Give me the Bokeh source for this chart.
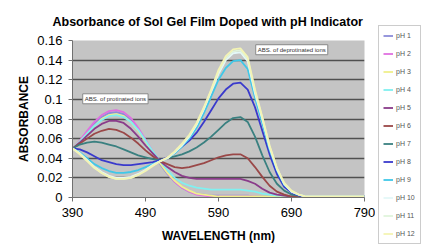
from bokeh.plotting import figure
from bokeh.models import Legend, LegendItem, Label, FixedTicker, Range1d
from bokeh.layouts import row
from bokeh.embed import file_html
from bokeh.resources import INLINE

wavelength = [390, 400, 410, 420, 430, 440, 450, 460, 470, 480, 490, 500, 510, 520, 530, 540, 550,
              560, 570, 580, 590, 600, 610, 620, 630, 640, 650, 660, 670, 680, 690, 700, 710, 720,
              730, 740, 750, 760, 770, 780, 790]

ph1 = [.050, .057, .066, .075, .082, .086, .087, .085, .079, .069, .057, .045, .034, .024, .016, .010, .006,
       .004, .003, .002, .002, .002, .002, .002, .002, .001, .001, .001, .001, .001, .001, .001, .001, .001,
       .001, .001, .001, .001, .001, .001, .001]
ph2 = [.050, .058, .068, .077, .084, .088, .089, .087, .081, .071, .059, .047, .036, .025, .016, .010, .006,
       .003, .002, .001, .001, .001, .001, .001, .001, .001, .000, .000, .000, .000, .000, .000, .000, .000,
       .000, .000, .000, .000, .000, .000, .000]
ph3 = [.050, .057, .065, .073, .080, .084, .085, .083, .077, .068, .057, .046, .035, .025, .017, .011, .007,
       .004, .003, .002, .001, .001, .001, .001, .001, .001, .001, .001, .001, .001, .001, .001, .001, .001,
       .001, .001, .001, .001, .001, .001, .001]
ph4 = [.050, .057, .065, .073, .079, .083, .084, .082, .077, .069, .058, .047, .037, .028, .020, .015, .012,
       .010, .009, .008, .008, .008, .008, .008, .007, .006, .004, .003, .002, .002, .001, .001, .001, .001,
       .001, .001, .001, .001, .001, .001, .001]
ph5 = [.050, .056, .063, .070, .075, .078, .078, .076, .070, .062, .053, .045, .037, .031, .026, .022, .020,
       .019, .019, .019, .019, .019, .019, .019, .017, .014, .009, .005, .003, .002, .001, .001, .001, .001,
       .001, .001, .001, .001, .001, .001, .001]
ph6 = [.050, .055, .060, .065, .068, .070, .069, .066, .061, .055, .048, .042, .037, .034, .031, .030, .031,
       .033, .035, .038, .041, .043, .044, .044, .040, .031, .021, .012, .006, .003, .001, .001, .001, .001,
       .001, .001, .001, .001, .001, .001, .001]
ph7 = [.050, .054, .056, .057, .056, .054, .052, .049, .046, .043, .041, .039, .038, .040, .042, .044, .047,
       .051, .056, .062, .069, .076, .081, .082, .077, .062, .043, .026, .014, .007, .003, .002, .001, .001,
       .001, .001, .001, .001, .001, .001, .001]
ph8 = [.050, .049, .046, .042, .038, .036, .034, .033, .033, .034, .035, .036, .038, .041, .046, .052, .058,
       .066, .077, .089, .101, .110, .116, .117, .110, .092, .068, .044, .024, .011, .005, .002, .001, .001,
       .001, .001, .001, .001, .001, .001, .001]
ph9 = [.050, .046, .040, .034, .030, .027, .025, .025, .026, .028, .031, .034, .037, .040, .045, .052, .060,
       .071, .086, .103, .120, .132, .139, .140, .131, .102, .076, .049, .028, .013, .006, .003, .001, .001,
       .001, .001, .001, .001, .001, .001, .001]
ph10 = [.050, .045, .038, .031, .026, .022, .020, .020, .021, .024, .028, .033, .037, .040, .046, .053, .062,
        .074, .090, .108, .126, .140, .147, .148, .139, .106, .080, .051, .029, .014, .006, .003, .001, .001,
        .001, .001, .001, .001, .001, .001, .001]
ph11 = [.050, .045, .038, .031, .025, .021, .019, .019, .020, .023, .028, .033, .037, .040, .046, .054, .063,
        .075, .091, .109, .128, .142, .149, .150, .141, .108, .081, .052, .030, .014, .006, .003, .001, .001,
        .001, .001, .001, .001, .001, .001, .001]
ph12 = [.050, .044, .037, .030, .025, .021, .019, .019, .020, .023, .027, .032, .037, .041, .047, .055, .064,
        .076, .092, .110, .130, .144, .151, .152, .143, .110, .082, .053, .030, .015, .007, .003, .001, .001,
        .001, .001, .001, .001, .001, .001, .001]

series_names = ["pH 1", "pH 2", "pH 3", "pH 4", "pH 5", "pH 6", "pH 7", "pH 8", "pH 9", "pH 10", "pH 11", "pH 12"]
series_values = [ph1, ph2, ph3, ph4, ph5, ph6, ph7, ph8, ph9, ph10, ph11, ph12]
colors = ["#8c8cd8", "#e070e0", "#f0f08c", "#80f0f0", "#8a3c8a", "#9a4848", "#3a8080", "#3a3acc",
          "#40c8e8", "#e4f8f8", "#e0f4dc", "#f4f4b4"]

x_ticks = [390, 490, 590, 690, 790]
y_ticks = [0, 0.02, 0.04, 0.06, 0.08, 0.1, 0.12, 0.14, 0.16]
y_tick_labels = ["0", "0.02", "0.04", "0.06", "0.08", "0.1", "0.12", "0.14", "0.16"]

notes = ["ABS. of protinated ions", "ABS. of deprotinated ions"]
note_x = [404, 641]
note_y = [0.0955, 0.1455]

FONT = "Liberation Sans"

p = figure(width=375, height=245, output_backend="svg", toolbar_location=None,
           x_range=Range1d(390, 790), y_range=Range1d(0, 0.16),
           min_border_left=72, min_border_right=11, min_border_top=40, min_border_bottom=45)
p.frame_align = False
p.background_fill_color = "#c4c4c4"
p.border_fill_color = "white"
p.outline_line_color = None

p.title.text = "Absorbance of Sol Gel Film Doped with pH Indicator"
p.title.text_font = FONT
p.title.text_font_size = "12.5px"
p.title.text_font_style = "bold"
p.title.align = "left"
p.title.offset = -20
p.title.standoff = 23
p.title.text_color = "black"

renderers = []
for name, vals, col in zip(series_names, series_values, colors):
    r = p.line(wavelength, vals, line_color=col, line_width=1.8)
    renderers.append(r)

p.xgrid.grid_line_color = None
p.ygrid.grid_line_color = "#505050"
p.ygrid.grid_line_width = 1.5

p.xaxis.ticker = FixedTicker(ticks=x_ticks)
p.yaxis.ticker = FixedTicker(ticks=y_ticks)
p.yaxis.major_label_overrides = {t: l for t, l in zip(y_ticks, y_tick_labels)}
for ax in (p.xaxis[0], p.yaxis[0]):
    ax.axis_line_color = "#707070"
    ax.major_tick_line_color = "#707070"
    ax.major_tick_out = 4
    ax.major_tick_in = 0
    ax.minor_tick_line_color = None
    ax.major_label_text_font = FONT
    ax.major_label_text_font_size = "13px"
    ax.major_label_text_color = "black"
    ax.axis_label_text_font = FONT
    ax.axis_label_text_font_size = "12px"
    ax.axis_label_text_font_style = "bold"
    ax.axis_label_text_color = "black"
p.xaxis.axis_label = "WAVELENGTH (nm)"
p.yaxis.axis_label = "ABSORBANCE"
p.xaxis.major_label_standoff = 6
p.yaxis.major_label_standoff = 6
p.xaxis.axis_label_standoff = 9
p.yaxis.axis_label_standoff = 3

for txt, xx, yy in zip(notes, note_x, note_y):
    p.add_layout(Label(x=xx, y=yy, text=txt, text_font=FONT, text_font_size="6px",
                       text_color="#333333", text_baseline="bottom", text_align="left",
                       background_fill_color="white", border_line_color="#888888",
                       border_line_width=1, padding=2))

# Legend panel: a bare figure; the series are drawn outside its view so only the legend shows
pl = figure(width=52, height=245, output_backend="svg", toolbar_location=None,
            x_range=Range1d(0, 1), y_range=Range1d(0, 1),
            x_axis_type=None, y_axis_type=None, title=None,
            min_border_left=0, min_border_right=0, min_border_top=0, min_border_bottom=0)
pl.frame_align = False
pl.outline_line_color = None
pl.background_fill_color = "white"
pl.border_fill_color = "white"
pl.grid.visible = False
legend_renderers = [pl.line(wavelength, vals, line_color=col, line_width=1.8)
                    for vals, col in zip(series_values, colors)]

legend = Legend(items=[LegendItem(label=n, renderers=[r]) for n, r in zip(series_names, legend_renderers)],
                location=(3, 1), orientation="vertical",
                label_text_font=FONT, label_text_font_size="7px", label_text_color="#555555",
                glyph_width=10, glyph_height=11, label_height=11, label_standoff=3,
                spacing=7, padding=4, margin=0,
                border_line_color="#999999", border_line_width=1,
                background_fill_color="white", background_fill_alpha=1.0)
pl.add_layout(legend)

layout = row(p, pl, spacing=0)
open("out.html", "w").write(file_html(layout, INLINE))
